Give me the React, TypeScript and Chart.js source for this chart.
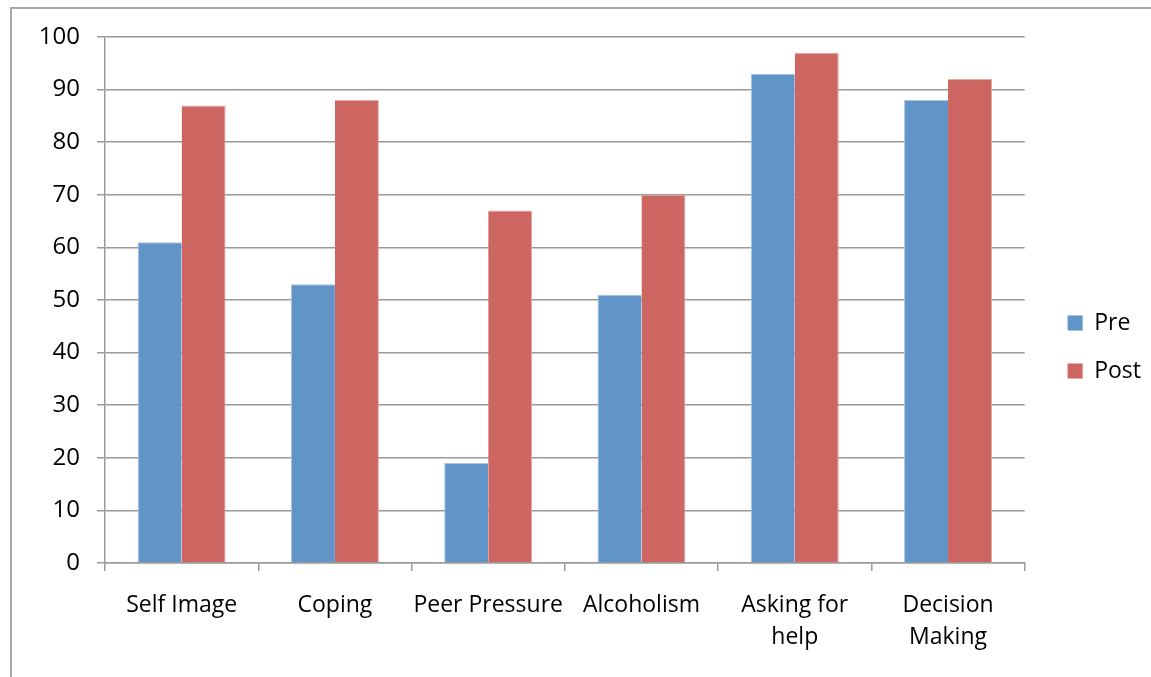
import React, { useEffect, useRef } from "react";
import { Chart, registerables } from "chart.js";

Chart.register(...registerables);

const categories: (string | string[])[] = [
  "Self Image",
  "Coping",
  "Peer Pressure",
  "Alcoholism",
  ["Asking for", "help"],
  ["Decision", "Making"],
];
const preValues = [61, 53, 19, 51, 93, 88];
const postValues = [87, 88, 67, 70, 97, 92];
const yTicks = [0, 10, 20, 30, 40, 50, 60, 70, 80, 90, 100];

const FONT = "'Open Sans', sans-serif";
const GRID = "#9a9a9a";

export default function App() {
  const canvasRef = useRef<HTMLCanvasElement | null>(null);

  useEffect(() => {
    if (!canvasRef.current) return;
    const chart = new Chart(canvasRef.current, {
      type: "bar",
      data: {
        labels: categories,
        datasets: [
          {
            label: "Pre",
            data: preValues,
            backgroundColor: "#6195C8",
            borderColor: "#A9C4E3",
            borderWidth: { top: 1, left: 1, right: 0, bottom: 0 },
            borderSkipped: false,
          },
          {
            label: "Post",
            data: postValues,
            backgroundColor: "#CD6660",
            borderColor: "#E6AAA7",
            borderWidth: { top: 1, left: 0, right: 1, bottom: 0 },
            borderSkipped: false,
          },
        ],
      },
      options: {
        animation: false,
        responsive: false,
        layout: { padding: { top: 37, left: 10, right: 0, bottom: 20 } },
        plugins: {
          tooltip: { enabled: false },
          legend: {
            position: "right",
            labels: {
              boxWidth: 15,
              boxHeight: 15,
              padding: 25,
              color: "#000",
              font: { family: FONT, size: 23 },
            },
          },
        },
        datasets: {
          bar: { categoryPercentage: 0.574, barPercentage: 1 },
        },
        scales: {
          x: {
            afterFit: (scale: any) => {
              scale.height = 94;
            },
            grid: {
              offset: true,
              drawOnChartArea: false,
              drawTicks: true,
              tickLength: 8,
              color: GRID,
              lineWidth: 1.5,
            },
            border: { color: GRID, width: 1.5 },
            ticks: {
              color: "#000",
              padding: 18,
              maxRotation: 0,
              autoSkip: false,
              font: { family: FONT, size: 23, lineHeight: 1.39 },
            },
          },
          y: {
            min: 0,
            max: 100,
            afterFit: (scale: any) => {
              scale.width = 95;
            },
            afterBuildTicks: (scale: any) => {
              scale.ticks = yTicks.map((v) => ({ value: v }));
            },
            grid: {
              color: GRID,
              lineWidth: 1.5,
              tickLength: 8,
            },
            border: { color: GRID, width: 1.5 },
            ticks: {
              color: "#000",
              padding: 17,
              font: { family: FONT, size: 24 },
            },
          },
          // empty spacer between the plot and the legend
          gap: {
            type: "linear",
            position: "right",
            display: true,
            afterFit: (scale: any) => {
              scale.width = 18;
            },
            grid: { display: false },
            border: { display: false },
            ticks: { display: false },
          },
        },
      },
    });
    return () => chart.destroy();
  }, []);

  return (
    <div
      style={{
        position: "absolute",
        left: 0,
        top: 0,
        width: 1151,
        height: 677,
        overflow: "hidden",
        background: "#fff",
      }}
    >
      <div
        style={{
          position: "absolute",
          left: 10,
          top: 7,
          width: 1160,
          height: 700,
          borderLeft: "2px solid #a8a8a8",
          borderTop: "2px solid #a8a8a8",
        }}
      />
      <canvas
        ref={canvasRef}
        width={1151}
        height={677}
        style={{ position: "absolute", left: 0, top: 0 }}
      />
    </div>
  );
}
